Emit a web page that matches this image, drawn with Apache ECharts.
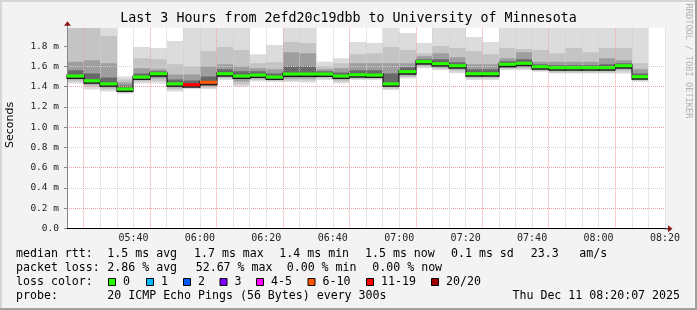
<!DOCTYPE html>
<html><head><meta charset="utf-8">
<script src="https://cdn.jsdelivr.net/npm/echarts@6/dist/echarts.min.js"></script>
<style>html,body{margin:0;padding:0;background:#f3f3f3}#c{width:697px;height:310px}</style>
</head><body><div id="c"></div>
<script>
// ---- data ----
const stepStarts = ['05:20','05:25','05:30','05:35','05:40','05:45','05:50','05:55','06:00','06:05','06:10','06:15','06:20','06:25','06:30','06:35','06:40','06:45','06:50','06:55','07:00','07:05','07:10','07:15','07:20','07:25','07:30','07:35','07:40','07:45','07:50','07:55','08:00','08:05','08:10'];
const stepMinutes = 5;
const medianRtt = [1.504,1.457,1.427,1.376,1.494,1.527,1.427,1.418,1.442,1.527,1.504,1.514,1.494,1.524,1.524,1.524,1.504,1.517,1.514,1.427,1.547,1.646,1.626,1.606,1.527,1.527,1.620,1.630,1.596,1.586,1.586,1.586,1.586,1.606,1.497];
const lossPct = [0,0,0,0,0,0,0,52.67,47.33,0,0,0,0,0,0,0,0,0,0,0,0,0,0,0,0,0,0,0,0,0,0,0,0,0,0];
const smokeMax = [2.3,2.3,2.3,1.50,1.79,1.78,1.85,2.3,2.3,2.3,2.3,1.72,1.81,2.3,2.3,1.645,1.68,1.84,1.83,2.3,1.93,1.83,2.3,2.3,1.89,1.84,2.3,2.3,2.3,2.3,2.3,2.3,2.3,2.3,2.3];
const smokeHi2 = [2.1,2.1,1.90,1.47,1.68,1.67,1.62,1.60,1.75,1.79,1.76,1.63,1.64,1.84,1.83,1.60,1.63,1.72,1.73,1.79,1.76,1.73,1.80,1.78,1.75,1.72,1.78,1.77,1.76,1.73,1.78,1.74,1.78,1.78,1.63];
const smokeHi3 = [1.645,1.66,1.63,1.44,1.58,1.57,1.52,1.52,1.60,1.62,1.60,1.58,1.57,1.74,1.73,1.57,1.58,1.63,1.63,1.63,1.63,1.70,1.73,1.69,1.62,1.62,1.68,1.74,1.645,1.645,1.645,1.645,1.68,1.66,1.57];
const smokeHi4 = [1.56,1.53,1.49,1.41,1.53,1.55,1.47,1.46,1.50,1.57,1.55,1.55,1.53,1.60,1.60,1.55,1.54,1.56,1.56,1.53,1.59,1.67,1.67,1.64,1.57,1.57,1.65,1.67,1.62,1.61,1.61,1.61,1.62,1.63,1.53];
const smokeLo4 = [1.485,1.44,1.41,1.36,1.48,1.50,1.41,1.405,1.42,1.51,1.48,1.50,1.48,1.50,1.50,1.51,1.49,1.50,1.50,1.41,1.53,1.63,1.61,1.59,1.51,1.51,1.60,1.61,1.58,1.57,1.57,1.57,1.57,1.59,1.48];
const smokeLo3 = [1.47,1.42,1.39,1.35,1.465,1.48,1.39,1.395,1.40,1.495,1.45,1.48,1.47,1.48,1.48,1.495,1.47,1.49,1.49,1.395,1.51,1.61,1.59,1.57,1.495,1.495,1.585,1.59,1.565,1.555,1.555,1.555,1.555,1.57,1.47];
const smokeLo2 = [1.45,1.40,1.37,1.34,1.45,1.455,1.37,1.385,1.39,1.48,1.42,1.465,1.46,1.46,1.46,1.48,1.45,1.475,1.475,1.38,1.495,1.595,1.575,1.55,1.48,1.48,1.575,1.575,1.555,1.54,1.54,1.54,1.54,1.55,1.46];
const smokeMin = [1.43,1.37,1.35,1.33,1.43,1.43,1.35,1.375,1.375,1.465,1.40,1.45,1.445,1.445,1.44,1.465,1.432,1.465,1.465,1.366,1.48,1.58,1.563,1.531,1.465,1.465,1.563,1.563,1.547,1.53,1.53,1.53,1.53,1.53,1.448];
const xTickLabels = ['05:40','06:00','06:20','06:40','07:00','07:20','07:40','08:00','08:20'];
const yTickLabels = ['0.0','0.2 m','0.4 m','0.6 m','0.8 m','1.0 m','1.2 m','1.4 m','1.6 m','1.8 m'];
const xStart = '05:20', xEnd = '08:20';
const yMax = 1.98;
const titleText = 'Last 3 Hours from 2efd20c19dbb to University of Minnesota';
const yAxisTitle = 'Seconds';
const row1 = [['median rtt:',16],['1.5 ms avg',107.3],['1.7 ms max',194],['1.4 ms min',279.3],['1.5 ms now',365],['0.1 ms sd',451],['23.3',530.7],['am/s',579.3]];
const row2 = [['packet loss:',16],['2.86 % avg',107.3],['52.67 % max',195.7],['0.00 % min',286.7],['0.00 % now',372.3]];
const lossLegendLabels = ['0','1','2','3','4-5','6-10','11-19','20/20'];
const lossLegendColors = ['#26ff00','#00b8ff','#0059ff','#7e00ff','#ff00ff','#ff5500','#ff0000','#a10000'];
const lossLegendBoxX = [108,146,183,219.5,256,307.5,366,431];
const row4 = [['probe:',16],['20 ICMP Echo Pings (56 Bytes) every 300s',107.3]];
const dateText = 'Thu Dec 11 08:20:07 2025';

// ---- helpers ----
const toMin = s => { const [h,m] = s.split(':').map(Number); return h*60+m; };
const fmtMin = v => { const h = Math.floor(v/60), m = Math.round(v%60); return String(h).padStart(2,'0')+':'+String(m).padStart(2,'0'); };
const starts = stepStarts.map(toMin);
function lossColor(p){
  const n = Math.round(p/100*20);
  if(n===0) return lossLegendColors[0];
  if(n===1) return lossLegendColors[1];
  if(n===2) return lossLegendColors[2];
  if(n===3) return lossLegendColors[3];
  if(n<=5) return lossLegendColors[4];
  if(n<=10) return lossLegendColors[5];
  if(n<=19) return lossLegendColors[6];
  return lossLegendColors[7];
}
function bandSeries(lo, hi, color){
  return {
    type:'custom', z:1, silent:true, clip:true,
    data: starts.map((s,i)=>[s, s+stepMinutes, lo[i], hi[i]]),
    encode:{x:[0,1], y:[2,3]},
    renderItem(params, api){
      const a = api.coord([api.value(0), api.value(3)]);
      const b = api.coord([api.value(1), api.value(2)]);
      const cs = params.coordSys;
      const r = echarts.graphic.clipRectByRect(
        {x:Math.round(a[0]), y:a[1], width:Math.round(b[0])-Math.round(a[0]), height:b[1]-a[1]},
        {x:cs.x, y:cs.y, width:cs.width, height:cs.height});
      return r && {type:'rect', shape:r, style:{fill:color}};
    }
  };
}

const mono = 'DejaVu Sans Mono';
const chart = echarts.init(document.getElementById('c'), null, {renderer:'canvas'});
const xMin = toMin(xStart), xMax = toMin(xEnd);
chart.setOption({
  animation:false,
  backgroundColor:'#f3f3f3',
  grid:{left:67, right:32, top:228.3-yMax*101.25, bottom:310-228.3, show:true, backgroundColor:'#ffffff', borderWidth:0, containLabel:false},
  xAxis:{
    type:'value', min:xMin, max:xMax, interval:5, z:3,
    axisLine:{show:true, lineStyle:{color:'#000', width:1}},
    axisTick:{show:false},
    axisLabel:{margin:5, fontFamily:mono, fontSize:10, color:'#222',
      formatter:v=>{ const s = fmtMin(v); return xTickLabels.includes(s) && Math.abs(v-Math.round(v))<1e-6 ? s : ''; }},
    splitLine:{show:true, showMinLine:false, lineStyle:{type:[1,1], width:1, color:['#f0a0a0','#cfcfcf','#cfcfcf','#cfcfcf']}}
  },
  yAxis:{
    type:'value', min:0, max:yMax, interval:0.1, z:3,
    axisLine:{show:true, lineStyle:{color:'#888', width:1}},
    axisTick:{show:true, length:3, lineStyle:{color:'#888'}, customValues:yTickLabels.map(s=>parseFloat(s))},
    axisLabel:{margin:8, fontFamily:mono, fontSize:9.5, color:'#222',
      formatter:v=>{ const k = Math.round(v*10)/10; const s = k===0 ? '0.0' : k.toFixed(1)+' m'; return (Math.abs(v-k)<1e-6 && yTickLabels.includes(s)) ? s : ''; }},
    splitLine:{show:true, showMinLine:false, showMaxLine:false, lineStyle:{type:[1,1], width:1, color:['#f0a0a0','#cfcfcf']}}
  },
  series:[
    bandSeries(smokeMin, smokeMax, '#dcdcdc'),
    bandSeries(smokeLo2, smokeHi2, '#c4c4c4'),
    bandSeries(smokeLo3, smokeHi3, '#9e9e9e'),
    bandSeries(smokeLo4, smokeHi4, '#686868'),
    // dark step edge of the median (just below the coloured median)
    {type:'custom', z:5, silent:true,
      data: starts.map((s,i)=>[s, s+stepMinutes, medianRtt[i], i>0 ? medianRtt[i-1] : medianRtt[i]]),
      encode:{x:[0,1], y:[2,3]},
      renderItem(params, api){
        const a = api.coord([api.value(0), api.value(2)]);
        const b = api.coord([api.value(1), api.value(2)]);
        const p = api.coord([api.value(0), api.value(3)]);
        const xa = Math.round(a[0]), xb = Math.round(b[0]);
        return {type:'group', children:[
          {type:'rect', shape:{x:xa, y:a[1]+1.5, width:xb-xa, height:1.5}, style:{fill:'#1a1a1a'}},
          {type:'rect', shape:{x:xa-0.5, y:Math.min(a[1],p[1])-1.5, width:1, height:Math.abs(a[1]-p[1])+4.5}, style:{fill:'#000'}}
        ]};
      }},
    {type:'custom', z:6, silent:true,
      data: starts.map((s,i)=>[s, s+stepMinutes, medianRtt[i], lossPct[i]]),
      encode:{x:[0,1], y:2},
      renderItem(params, api){
        const a = api.coord([api.value(0), api.value(2)]);
        const b = api.coord([api.value(1), api.value(2)]);
        const xa = Math.round(a[0]), xb = Math.round(b[0]);
        return {type:'rect', shape:{x:xa, y:a[1]-1.5, width:xb-xa, height:3}, style:{fill:lossColor(api.value(3))}};
      }}
  ]
});

// ---- decorations & texts ----
const x0 = chart.convertToPixel({gridIndex:0}, [xMin, 0]);
const x1 = chart.convertToPixel({gridIndex:0}, [xMax, yMax]);
const g = [];
g.push({type:'rect', shape:{x:0,y:0,width:697,height:2}, style:{fill:'#d6d6d6'}, z:20});
g.push({type:'rect', shape:{x:0,y:0,width:2,height:310}, style:{fill:'#d6d6d6'}, z:20});
g.push({type:'rect', shape:{x:0,y:308,width:697,height:2}, style:{fill:'#a0a0a0'}, z:20});
g.push({type:'rect', shape:{x:695,y:0,width:2,height:310}, style:{fill:'#a0a0a0'}, z:20});
g.push({type:'line', shape:{x1:x0[0]+0.5, y1:x1[1], x2:x0[0]+0.5, y2:x1[1]-3}, style:{stroke:'#888', lineWidth:1}, z:20});
g.push({type:'line', shape:{x1:x1[0], y1:x0[1]+0.5, x2:x1[0]+4, y2:x0[1]+0.5}, style:{stroke:'#000', lineWidth:1}, z:20});
g.push({type:'polygon', shape:{points:[[x0[0]+0.5-3.5, x1[1]-2],[x0[0]+0.5+3.5, x1[1]-2],[x0[0]+0.5, x1[1]-6.5]]}, style:{fill:'#8b1a1a'}, z:21});
g.push({type:'polygon', shape:{points:[[x1[0]+3, x0[1]+0.5-3.5],[x1[0]+3, x0[1]+0.5+3.5],[x1[0]+7.5, x0[1]+0.5]]}, style:{fill:'#8b1a1a'}, z:21});
g.push({type:'text', x:348.5, y:19, style:{text:titleText, font:'13.3px '+mono, fill:'#000', align:'center', verticalAlign:'middle'}, z:20});
g.push({type:'text', x:10.5, y:125, rotation:Math.PI/2, style:{text:yAxisTitle, font:'11px DejaVu Sans', fill:'#000', align:'center', verticalAlign:'middle'}, z:20});
g.push({type:'text', x:688, y:61, rotation:-Math.PI/2, style:{text:'RRDTOOL / TOBI OETIKER', font:'8.7px '+mono, fill:'#b4b4b4', align:'center', verticalAlign:'middle'}, z:20});
const lf = '11.6px '+mono;
row1.forEach(([t,x])=>g.push({type:'text', x, y:254.3, style:{text:t, font:lf, fill:'#000', verticalAlign:'middle'}, z:20}));
row2.forEach(([t,x])=>g.push({type:'text', x, y:268.3, style:{text:t, font:lf, fill:'#000', verticalAlign:'middle'}, z:20}));
g.push({type:'text', x:16, y:282.3, style:{text:'loss color:', font:lf, fill:'#000', verticalAlign:'middle'}, z:20});
lossLegendLabels.forEach((t,i)=>{
  const bx = lossLegendBoxX[i];
  g.push({type:'rect', shape:{x:bx+0.5, y:278.5, width:7, height:7}, style:{fill:lossLegendColors[i], stroke:'#000', lineWidth:1}, z:20});
  g.push({type:'text', x:bx+15, y:282.3, style:{text:t, font:lf, fill:'#000', verticalAlign:'middle'}, z:20});
});
row4.forEach(([t,x])=>g.push({type:'text', x, y:296, style:{text:t, font:lf, fill:'#000', verticalAlign:'middle'}, z:20}));
g.push({type:'text', x:680, y:296, style:{text:dateText, font:lf, fill:'#000', align:'right', verticalAlign:'middle'}, z:20});
chart.setOption({graphic:g});
</script></body></html>
